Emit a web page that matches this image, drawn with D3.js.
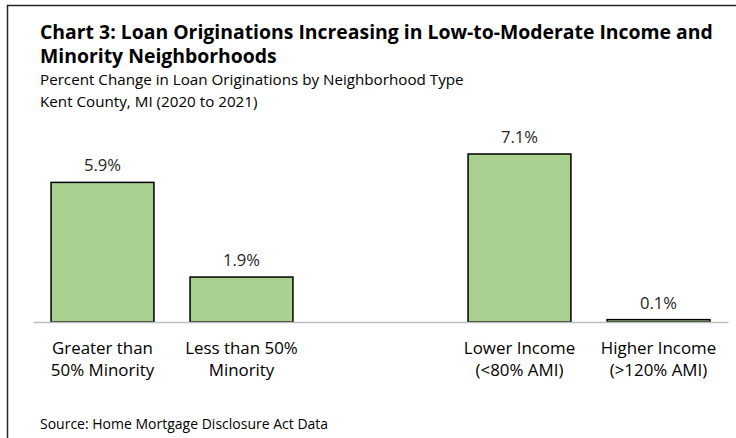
<!DOCTYPE html>
<html>
<head>
<meta charset="utf-8">
<script src="https://cdn.jsdelivr.net/npm/d3@7"></script>
<style>
  html, body { margin: 0; padding: 0; background: #fff; }
  svg { display: block; font-family: "Open Sans", "Noto Sans", sans-serif; }
</style>
</head>
<body>
<div id="chart"></div>
<script>
// Neighborhood groups (an empty slot separates the minority and income groups)
const categories = ["minority-high", "minority-low", "gap", "income-low", "income-high"];
const categoryLabels = [
  ["Greater than", "50% Minority"],
  ["Less than 50%", "Minority"],
  [],
  ["Lower Income", "(<80% AMI)"],
  ["Higher Income", "(>120% AMI)"]
];
const pctChange = [5.9, 1.9, null, 7.1, 0.1];

const titleLines = [
  "Chart 3: Loan Originations Increasing in Low-to-Moderate Income and",
  "Minority Neighborhoods"
];
const subtitleLines = [
  "Percent Change in Loan Originations by Neighborhood Type",
  "Kent County, MI (2020 to 2021)"
];
const sourceText = "Source: Home Mortgage Disclosure Act Data";

const W = 736, H = 438;
const svg = d3.select("#chart").append("svg").attr("width", W).attr("height", H);

// Outer frame
svg.append("path")
  .attr("d", `M7.5,${H + 2} V5.5 H${W + 2}`)
  .attr("fill", "none").attr("stroke", "#262626").attr("stroke-width", 1.5);

// Titles
const title = svg.append("text").attr("x", 40).attr("font-weight", "bold")
  .attr("font-size", 19.4).attr("fill", "#000");
titleLines.forEach((t, i) => title.append("tspan").attr("x", 40).attr("y", 39 + i * 24).text(t));

const sub = svg.append("text").attr("font-size", 15.2).attr("fill", "#000");
subtitleLines.forEach((t, i) => sub.append("tspan").attr("x", 40).attr("y", 84.5 + i * 22.5).text(t));

// Scales
const x = d3.scaleBand().domain(categories).range([33, 728])
  .paddingInner(0.26).paddingOuter(0.13);
const y = d3.scaleLinear().domain([0, 7.1]).range([322, 154]);

const data = categories.map((c, i) => ({ c, v: pctChange[i], lab: categoryLabels[i] }))
  .filter(d => d.v !== null);

// Bars
svg.append("g").selectAll("rect").data(data).join("rect")
  .attr("x", d => x(d.c))
  .attr("y", d => y(d.v))
  .attr("width", x.bandwidth())
  .attr("height", d => y(0) - y(d.v))
  .attr("fill", "#a9d08e")
  .attr("stroke", "#000").attr("stroke-width", 1.5);

// Baseline axis
const axis = svg.append("g").attr("transform", `translate(0,${y(0)})`)
  .call(d3.axisBottom(x).tickSize(0).tickFormat(""));
axis.select(".domain").attr("stroke", "#bfbfbf").attr("stroke-width", 1.5);

// Value labels
svg.append("g").selectAll("text").data(data).join("text")
  .attr("x", d => x(d.c) + x.bandwidth() / 2)
  .attr("y", d => y(d.v) - 11)
  .attr("text-anchor", "middle").attr("font-size", 16.6).attr("fill", "#262626")
  .text(d => d3.format(".1f")(d.v) + "%");

// Category labels
const cl = svg.append("g").selectAll("text").data(data).join("text")
  .attr("text-anchor", "middle").attr("font-size", 16.9).attr("fill", "#000");
cl.each(function (d) {
  const t = d3.select(this);
  d.lab.forEach((s, i) => t.append("tspan")
    .attr("x", x(d.c) + x.bandwidth() / 2).attr("y", 354 + i * 22).text(s));
});

// Source
svg.append("text").attr("x", 40).attr("y", 429).attr("font-size", 14)
  .attr("fill", "#000").text(sourceText);
</script>
</body>
</html>
